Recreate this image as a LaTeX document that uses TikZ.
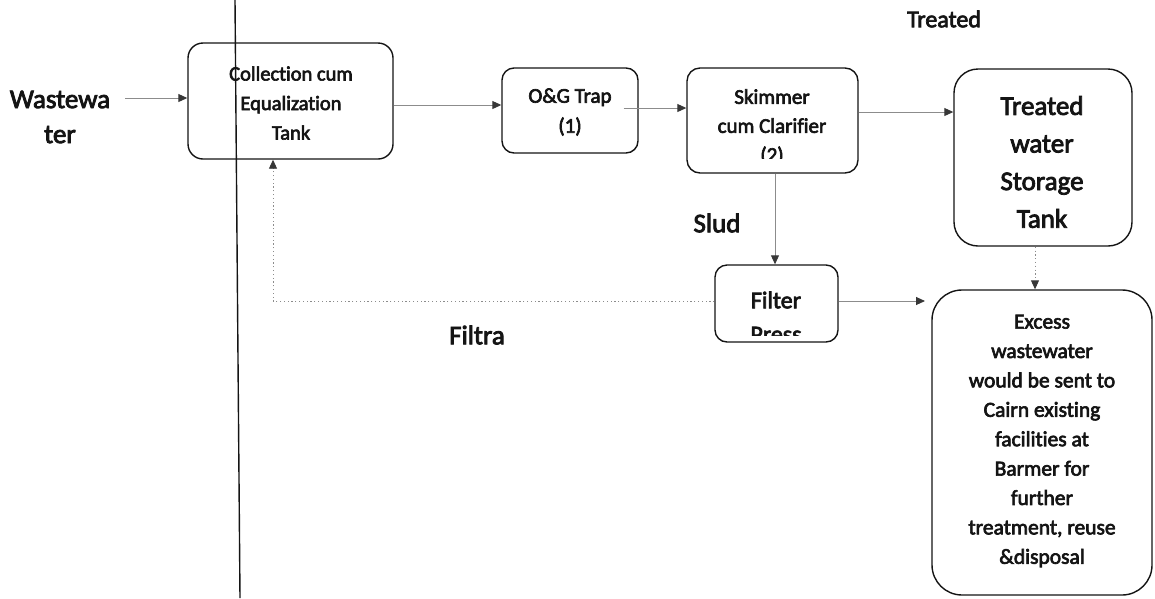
\documentclass[tikz,border=0pt]{standalone}
\usepackage{fontspec}
\setmainfont{Carlito}[Ligatures=NoCommon, FakeBold=3]
\usetikzlibrary{arrows.meta}
\definecolor{ink}{HTML}{141414}
\definecolor{flow}{HTML}{8C8C8C}

\begin{document}
\begin{tikzpicture}[x=1pt,y=-1pt,
  tank/.style={draw=ink, line width=1.4pt, inner sep=0pt},
  txt/.style={text=ink, align=center, inner sep=0pt},
  flowarrow/.style={draw=flow, line width=0.9pt,
    -{Triangle[length=9pt,width=8pt,color=ink!85,fill=ink!85]}},
  dotflow/.style={flowarrow, dash pattern=on 1.2pt off 2.6pt}
]
\useasboundingbox (0,0) rectangle (1155,598);

% margin rule running down the page
\draw[line width=1.4pt, ink] (235,0) -- (240,598);

% process units
\node[tank, rounded corners=15pt, minimum width=205pt, minimum height=116pt] (coll) at (290.5,101) {};
\node[tank, rounded corners=12pt, minimum width=136pt, minimum height=85pt] (og) at (570,110.5) {};
\node[tank, rounded corners=13pt, minimum width=171pt, minimum height=105pt] (skim) at (772.5,120.5) {};
\node[tank, rounded corners=24pt, minimum width=178pt, minimum height=177pt] (store) at (1043,157.5) {};
\node[tank, rounded corners=12pt, minimum width=123pt, minimum height=77pt] (press) at (776.5,303.5) {};
\node[tank, rounded corners=30pt, minimum width=220pt, minimum height=305pt] (excess) at (1042,442.5) {};

% texts of the units
\node[txt, font=\fontsize{20.5}{29.5}\selectfont] (colltxt) at (291,103) {Collection cum\\Equalization\\Tank};
\node[txt, font=\fontsize{21}{30}\selectfont] (ogtxt) at (570,112) {O\&G Trap\\(1)};
\node[txt, font=\fontsize{27}{37.6}\selectfont] (storetxt) at (1042,162) {Treated\\water\\Storage\\Tank};
\node[txt, font=\fontsize{21.5}{29.4}\selectfont] (excesstxt) at (1042,441) {Excess\\wastewater\\would be sent to\\Cairn existing\\facilities at\\Barmer for\\further\\treatment, reuse\\\&disposal};

% last lines of these two are cut off by the text frame
\begin{scope}
  \clip (skim.north west) rectangle ([yshift=15pt]skim.south east);
  \node[txt, font=\fontsize{21}{29}\selectfont] (skimtxt) at (772,127) {Skimmer\\cum Clarifier\\(2)};
\end{scope}
\begin{scope}
  \clip (press.north west) rectangle ([yshift=7pt]press.south east);
  \node[txt, font=\fontsize{24}{34}\selectfont] (presstxt) at (776,317) {Filter\\Press};
\end{scope}

% free labels
\node[txt, font=\fontsize{27}{35}\selectfont] (ww) at (60,117) {Wastewa\\ter};
\node[txt, font=\fontsize{24}{28}\selectfont] (treatedlbl) at (944,19) {Treated};
\node[txt, font=\fontsize{27}{30}\selectfont] (sludlbl) at (717,223) {Slud};
\node[txt, font=\fontsize{27}{30}\selectfont] (filtralbl) at (477,335) {Filtra};

% flow lines
\coordinate (wwend) at (125,98);
\draw[flowarrow] (wwend) -- (coll.west |- wwend);
\draw[flowarrow] (coll.east |- 0,105) -- (og.west |- 0,105);
\draw[flowarrow] ([xshift=-15pt]og.east |- 0,108) -- (skim.west |- 0,108);
\draw[flowarrow] (skim.east |- 0,112) -- (store.west |- 0,112);
\draw[flowarrow] (skim.south -| 775,0) -- (press.north -| 775,0);
\draw[dotflow] (store.south -| 1035,0) -- (excess.north -| 1035,0);
\coordinate (pressout) at (925,301);
\draw[flowarrow] (press.east |- pressout) -- (pressout);
\coordinate (bend) at (273,301);
\draw[dotflow] (press.west |- bend) -- (bend) -- (bend |- coll.south);
\end{tikzpicture}
\end{document}
